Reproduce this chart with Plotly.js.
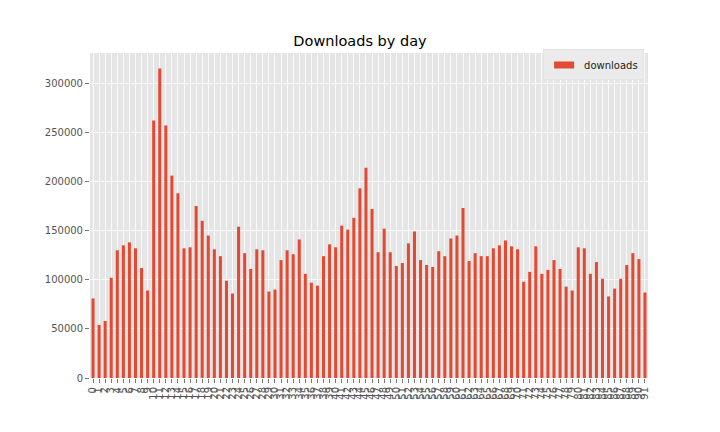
<!DOCTYPE html>
<html>
<head>
<meta charset="utf-8">
<script src="https://cdn.plot.ly/plotly-3.0.1.min.js"></script>
<style>html,body{margin:0;padding:0;background:#fff;}#chart{width:720px;height:432px;}</style>
</head>
<body>
<div id="chart"></div>
<script>
var days = [];
for (var i = 0; i < 92; i++) days.push(i);
var downloads = [
  81000, 54000, 58000, 102000, 130000, 135000, 138000, 132000, 112000, 89000,
  262000, 315000, 257000, 206000, 188000, 132000, 133000, 175000, 160000, 145000,
  131000, 124000, 99000, 86000, 154000, 127000, 111000, 131000, 130000, 88000,
  90000, 120000, 130000, 126000, 141000, 106000, 97000, 94000, 124000, 136000,
  133000, 155000, 151000, 163000, 193000, 214000, 172000, 128000, 152000, 128000,
  114000, 117000, 137000, 149000, 120000, 115000, 113000, 129000, 124000, 142000,
  145000, 173000, 119000, 127000, 124000, 124000, 132000, 135000, 140000, 134000,
  131000, 98000, 108000, 134000, 106000, 110000, 120000, 111000, 93000, 89000,
  133000, 132000, 106000, 118000, 101000, 83000, 91000, 101000, 115000, 127000,
  121000, 87000
];
var tickLabels = days.map(function(d){ return String(d); });
var seriesName = 'downloads';

var maxVal = Math.max.apply(null, downloads);

var trace = {
  type: 'bar',
  x: days,
  y: downloads,
  width: 0.5,
  name: seriesName,
  marker: {color: '#E24A33', line: {width: 0}},
  showlegend: true
};

var layout = {
  width: 720,
  height: 432,
  margin: {l: 90, r: 72, t: 53, b: 54, pad: 0},
  paper_bgcolor: '#ffffff',
  plot_bgcolor: '#E5E5E5',
  font: {family: 'DejaVu Sans, sans-serif', size: 10, color: '#555555'},
  title: {text: 'Downloads by day', font: {family: 'DejaVu Sans, sans-serif', size: 14.5, color: '#000000'}, x: 0.5, xanchor: 'center', y: 1 - 41/432, yanchor: 'middle'},
  xaxis: {
    range: [-0.5, 91.5],
    tickmode: 'array',
    tickvals: days,
    ticktext: tickLabels,
    tickangle: -90,
    ticks: 'outside',
    ticklen: 4,
    tickwidth: 0.8,
    tickcolor: '#555555',
    showgrid: true,
    gridcolor: '#ffffff',
    gridwidth: 0.8,
    zeroline: false,
    showline: false,
    tickfont: {size: 10, color: '#555555'}
  },
  yaxis: {
    range: [0, maxVal * 1.05],
    tickmode: 'linear',
    tick0: 0,
    dtick: 50000,
    tickformat: 'd',
    ticks: 'outside',
    ticklen: 4,
    tickwidth: 0.8,
    tickcolor: '#555555',
    showgrid: true,
    gridcolor: '#ffffff',
    gridwidth: 0.8,
    zeroline: false,
    showline: false,
    tickfont: {size: 10, color: '#555555'}
  },
  legend: {
    x: 0.993, xanchor: 'right',
    y: 1.011, yanchor: 'top',
    bgcolor: '#EBEBEB',
    bordercolor: '#E5E5E5',
    borderwidth: 1,
    itemwidth: 30,
    font: {size: 10, color: '#222222'}
  },
  bargap: 0.5,
  showlegend: true
};

Plotly.newPlot('chart', [trace], layout, {staticPlot: true, displayModeBar: false}).then(function(gd){
  var pts = gd.querySelectorAll('.legend .legendpoints path');
  pts.forEach(function(p){ p.setAttribute('d', 'M10,3.5H-10V-3.5H10Z'); });
});
</script>
</body>
</html>
